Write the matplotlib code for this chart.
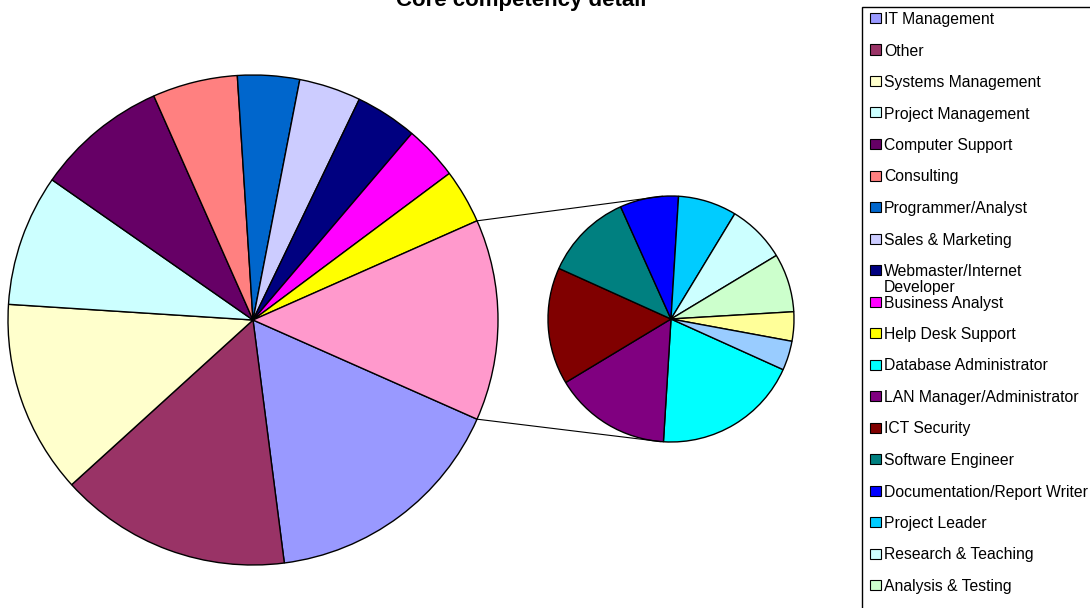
import numpy as np
import matplotlib.pyplot as plt
from matplotlib.patches import Rectangle

plt.rcParams['font.family'] = ['Liberation Sans', 'DejaVu Sans']

# main pie, clockwise from the split-off slice
main_labels = ['IT Management', 'Other', 'Systems Management', 'Project Management',
               'Computer Support', 'Consulting', 'Programmer/Analyst', 'Sales & Marketing',
               'Webmaster/Internet\nDeveloper', 'Business Analyst', 'Help Desk Support']
main_counts = [32, 30, 25, 17, 17, 11, 8, 8, 8, 7, 7]
main_colors = ['#9999FF', '#993366', '#FFFFCC', '#CCFFFF', '#660066', '#FF8080',
               '#0066CC', '#CCCCFF', '#000080', '#FF00FF', '#FFFF00']

# detail pie (the grouped slice)
sub_labels = ['Database Administrator', 'LAN Manager/Administrator', 'ICT Security',
              'Software Engineer', 'Documentation/Report Writer', 'Project Leader',
              'Research & Teaching', 'Analysis & Testing']
sub_counts = [5, 4, 4, 3, 2, 2, 2, 2, 1, 1]
sub_colors = ['#00FFFF', '#800080', '#800000', '#008080', '#0000FF', '#00CCFF',
              '#CCFFFF', '#CCFFCC', '#FFFF99', '#99CCFF']
group_color = '#FF99CC'

W, H = 1090, 608
fig = plt.figure(figsize=(W / 100, H / 100), dpi=100)
ax = fig.add_axes([0, 0, 1, 1])

total = sum(main_counts) + sum(sub_counts)
group_deg = 360.0 * sum(sub_counts) / total

c1, r1 = (253, 288), 245
c2, r2 = (671, 289), 123

vals = main_counts + [sum(sub_counts)]
cols = main_colors + [group_color]
wedges, _ = ax.pie(vals, colors=cols, center=c1, radius=r1, counterclock=False,
                   startangle=-group_deg / 2, frame=True,
                   wedgeprops=dict(edgecolor='black', linewidth=1.0))
ax.pie(sub_counts, colors=sub_colors, center=c2, radius=r2, counterclock=False,
       startangle=-24.3, frame=True,
       wedgeprops=dict(edgecolor='black', linewidth=1.0))
ax.set_xlim(0, W)
ax.set_ylim(0, H)
ax.set_aspect('equal')
ax.axis('off')

# connector lines from the grouped slice to the detail pie
g = wedges[-1]
for ang, end in [(max(g.theta1, g.theta2), 94), (min(g.theta1, g.theta2), -95)]:
    a = np.deg2rad(ang)
    b = np.deg2rad(end)
    ax.plot([c1[0] + r1 * np.cos(a), c2[0] + r2 * np.cos(b)],
            [c1[1] + r1 * np.sin(a), c2[1] + r2 * np.sin(b)],
            color='black', linewidth=0.8)

fig.text(521 / W, 1 - 6 / H, 'Core competency detail', ha='center', va='baseline',
         fontsize=16, fontweight='bold')

# legend box runs off the bottom edge
fig.patches.append(Rectangle((862 / W, -0.05), 0.3, 1 - 7 / H + 0.05,
                             transform=fig.transFigure, facecolor='white',
                             edgecolor='black', linewidth=1.0))
leg_labels = main_labels + sub_labels
leg_colors = main_colors + sub_colors[:len(sub_labels)]
y = 18
for lab, col in zip(leg_labels, leg_colors):
    fig.patches.append(Rectangle((870 / W, 1 - (y + 5) / H), 11 / W, 10 / H,
                                 transform=fig.transFigure, facecolor=col,
                                 edgecolor='black', linewidth=0.8))
    lines = lab.split('\n')
    for k, part in enumerate(lines):
        fig.text(884 / W, 1 - (y + 6 + 16 * k) / H, part, ha='left', va='baseline',
                 fontsize=11.3)
    y += 31.5

fig.savefig('out.png', dpi=100)
